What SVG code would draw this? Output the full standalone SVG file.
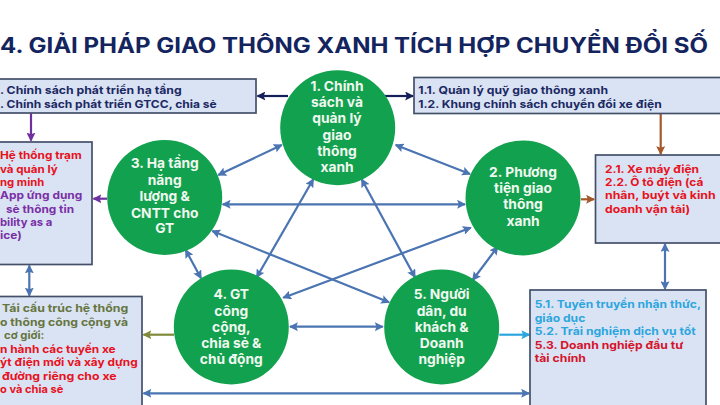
<svg xmlns="http://www.w3.org/2000/svg" width="720" height="405" viewBox="0 0 720 405">
<style>
text{font-family:"Inter","Liberation Sans","Noto Sans CJK SC",sans-serif}
.box{fill:#dae3f3;stroke:#44506a;stroke-width:1.7}
.c{fill:#12a14e}
.ct{fill:#f0f8f0;font-size:13.800px;font-weight:700;text-anchor:middle}
.t{font-size:11px;font-weight:700}
.title{fill:#14245e;font-size:21px;font-weight:700}
.navy{fill:#1c2a64}.red{fill:#e8121e}.pur{fill:#7a30a6}.oli{fill:#66753f}.cya{fill:#2ca6de}.dred{fill:#d5142c}
line{fill:none;stroke-width:2.200}
.b{stroke:#4a74b2;marker-start:url(#mb);marker-end:url(#mb)}
.n{stroke:#14205a;marker-end:url(#mn)}
.p{stroke:#7030a0;marker-end:url(#mp)}
.o{stroke:#7f8a3a;marker-end:url(#mo)}
.r{stroke:#a5582a;marker-end:url(#mr)}
.y{stroke:#2ca6de;marker-end:url(#my)}
</style>
<defs>
<marker id="mb" viewBox="0 0 8 8" refX="7" refY="4" markerWidth="9" markerHeight="9" markerUnits="userSpaceOnUse" orient="auto-start-reverse"><path d="M0 0L8 4L0 8L1.500 4Z" fill="#4a74b2"/></marker>
<marker id="mn" viewBox="0 0 8 8" refX="7" refY="4" markerWidth="9" markerHeight="9" markerUnits="userSpaceOnUse" orient="auto"><path d="M0 0L8 4L0 8L1.500 4Z" fill="#14205a"/></marker>
<marker id="mp" viewBox="0 0 8 8" refX="7" refY="4" markerWidth="9" markerHeight="9" markerUnits="userSpaceOnUse" orient="auto"><path d="M0 0L8 4L0 8L1.500 4Z" fill="#7030a0"/></marker>
<marker id="mo" viewBox="0 0 8 8" refX="7" refY="4" markerWidth="9" markerHeight="9" markerUnits="userSpaceOnUse" orient="auto"><path d="M0 0L8 4L0 8L1.500 4Z" fill="#7f8a3a"/></marker>
<marker id="mr" viewBox="0 0 8 8" refX="7" refY="4" markerWidth="9" markerHeight="9" markerUnits="userSpaceOnUse" orient="auto"><path d="M0 0L8 4L0 8L1.500 4Z" fill="#a5582a"/></marker>
<marker id="my" viewBox="0 0 8 8" refX="7" refY="4" markerWidth="9" markerHeight="9" markerUnits="userSpaceOnUse" orient="auto"><path d="M0 0L8 4L0 8L1.500 4Z" fill="#2ca6de"/></marker>
</defs>
<rect width="720" height="405" fill="#fff"/>
<text id="title" class="title" x="0" y="53" textLength="708" lengthAdjust="spacingAndGlyphs">4. GIẢI PHÁP GIAO THÔNG XANH TÍCH HỢP CHUYỂN ĐỔI SỐ</text>
<g id="connectors">
<line class="b" x1="218.300" y1="175" x2="281.700" y2="145"/>
<line class="b" x1="395.700" y1="145" x2="470" y2="174"/>
<line class="b" x1="222.700" y1="204.300" x2="465" y2="204.300"/>
<line class="b" x1="212.300" y1="231" x2="389" y2="302.300"/>
<line class="b" x1="313.300" y1="179.300" x2="256.700" y2="277.300"/>
<line class="b" x1="361.700" y1="179.300" x2="415" y2="277.300"/>
<line class="b" x1="470.700" y1="227.700" x2="283.300" y2="297.700"/>
<line class="b" x1="185.700" y1="250" x2="201" y2="278.300"/>
<line class="b" x1="497.700" y1="246.700" x2="472.700" y2="280"/>
<line class="b" x1="290" y1="326.700" x2="382.700" y2="326.700"/>
<line class="b" x1="143.500" y1="393.300" x2="529" y2="393.300"/>
<line class="b" x1="29.300" y1="265.500" x2="29.300" y2="295.500"/>
<line class="b" x1="665" y1="244" x2="665" y2="289"/>
<line class="n" x1="288" y1="96" x2="257.500" y2="96"/>
<line class="n" x1="384" y1="96" x2="413" y2="96"/>
<line class="p" x1="31" y1="113" x2="31" y2="140.500"/>
<line class="p" x1="107" y1="198.700" x2="93.500" y2="198.700"/>
<line class="o" x1="174" y1="334.700" x2="143.500" y2="334.700"/>
<line class="r" x1="660.700" y1="114" x2="660.700" y2="154"/>
<line class="r" x1="581" y1="199.300" x2="594" y2="199.300"/>
<line class="y" x1="499.300" y1="334.700" x2="529.300" y2="334.700"/>
</g>
<g id="box-3-policy">
<rect class="box" x="-5" y="79" width="261" height="34"/>
<text class="t navy" x="0" y="94" textLength="181.700" lengthAdjust="spacingAndGlyphs">. Chính sách phát triển hạ tầng</text>
<text class="t navy" x="0" y="107.700" textLength="216.700" lengthAdjust="spacingAndGlyphs">. Chính sách phát triển GTCC, chia sẻ</text>
</g>
<g id="box-1-policy">
<rect class="box" x="414" y="77.500" width="312" height="36"/>
<text class="t navy" x="418.300" y="94" textLength="189.700" lengthAdjust="spacingAndGlyphs">1.1. Quản lý quỹ giao thông xanh</text>
<text class="t navy" x="418.300" y="107.700" textLength="243.400" lengthAdjust="spacingAndGlyphs">1.2. Khung chính sách chuyển đổi xe điện</text>
</g>
<g id="box-3-detail">
<rect class="box" x="-5" y="142" width="97" height="122.500"/>
<text class="t red" x="0" y="158.700" textLength="81.700" lengthAdjust="spacingAndGlyphs">Hệ thống trạm</text>
<text class="t red" x="0" y="172.700" textLength="57.700" lengthAdjust="spacingAndGlyphs">và quản lý</text>
<text class="t red" x="0" y="186" textLength="44.300" lengthAdjust="spacingAndGlyphs">ng minh</text>
<text class="t pur" x="0" y="199.300" textLength="82.300" lengthAdjust="spacingAndGlyphs">App ứng dụng</text>
<text class="t pur" x="6" y="212.700" textLength="68" lengthAdjust="spacingAndGlyphs">sẻ thông tin</text>
<text class="t pur" x="0" y="226" textLength="52.300" lengthAdjust="spacingAndGlyphs">bility as a</text>
<text class="t pur" x="0" y="239.300" textLength="21.700" lengthAdjust="spacingAndGlyphs">ice)</text>
</g>
<g id="box-4-detail">
<rect class="box" x="-5" y="296.500" width="147" height="120"/>
<text class="t oli" x="2" y="311.700" textLength="126.300" lengthAdjust="spacingAndGlyphs">Tái cấu trúc hệ thống</text>
<text class="t oli" x="0" y="325.700" textLength="128" lengthAdjust="spacingAndGlyphs">o thông công cộng và</text>
<text class="t oli" x="4" y="339" textLength="40.300" lengthAdjust="spacingAndGlyphs">cơ giới:</text>
<text class="t red" x="0" y="352.700" textLength="115.700" lengthAdjust="spacingAndGlyphs">n hành các tuyến xe</text>
<text class="t red" x="0" y="366.300" textLength="137.700" lengthAdjust="spacingAndGlyphs">ýt điện mới và xây dựng</text>
<text class="t red" x="2" y="380" textLength="114.700" lengthAdjust="spacingAndGlyphs">đường riêng cho xe</text>
<text class="t red" x="0" y="393.300" textLength="63.300" lengthAdjust="spacingAndGlyphs">o và chia sẻ</text>
</g>
<g id="box-2-detail">
<rect class="box" x="595.500" y="155" width="130" height="88"/>
<text class="t red" x="605" y="172.700" textLength="94" lengthAdjust="spacingAndGlyphs">2.1. Xe máy điện</text>
<text class="t red" x="605" y="186" textLength="98.300" lengthAdjust="spacingAndGlyphs">2.2. Ô tô điện (cá</text>
<text class="t red" x="605" y="199.300" textLength="110.700" lengthAdjust="spacingAndGlyphs">nhân, buýt và kinh</text>
<text class="t red" x="605" y="212.700" textLength="85" lengthAdjust="spacingAndGlyphs">doanh vận tải)</text>
</g>
<g id="box-5-detail">
<rect class="box" x="530" y="290" width="176" height="125"/>
<text class="t cya" x="534.700" y="308.300" textLength="166.300" lengthAdjust="spacingAndGlyphs">5.1. Tuyên truyền nhận thức,</text>
<text class="t cya" x="534.700" y="321.700" textLength="50.600" lengthAdjust="spacingAndGlyphs">giáo dục</text>
<text class="t cya" x="534.700" y="335" textLength="161" lengthAdjust="spacingAndGlyphs">5.2. Trải nghiệm dịch vụ tốt</text>
<text class="t dred" x="534.700" y="348.700" textLength="148.600" lengthAdjust="spacingAndGlyphs">5.3. Doanh nghiệp đầu tư</text>
<text class="t dred" x="534.700" y="362.300" textLength="51.300" lengthAdjust="spacingAndGlyphs">tài chính</text>
</g>
<g id="node-1">
<circle class="c" cx="337.700" cy="127.700" r="57.500"/>
<text class="ct" x="337" y="90.700">1. Chính</text>
<text class="ct" x="337" y="107.300">sách và</text>
<text class="ct" x="337" y="123.300">quản lý</text>
<text class="ct" x="337" y="140">giao</text>
<text class="ct" x="337" y="156">thông</text>
<text class="ct" x="337" y="172.300">xanh</text>
</g>
<g id="node-2">
<circle class="c" cx="523" cy="198" r="57.500"/>
<text class="ct" x="523" y="176.700">2. Phương</text>
<text class="ct" x="523" y="193.300">tiện giao</text>
<text class="ct" x="523" y="209.300">thông</text>
<text class="ct" x="523" y="225.700">xanh</text>
</g>
<g id="node-3">
<circle class="c" cx="164.700" cy="197.500" r="57.500"/>
<text class="ct" x="164.700" y="168.300">3. Hạ tầng</text>
<text class="ct" x="164.700" y="185">năng</text>
<text class="ct" x="164.700" y="201">lượng &amp;</text>
<text class="ct" x="164.700" y="217.700">CNTT cho</text>
<text class="ct" x="164.700" y="233.300">GT</text>
</g>
<g id="node-4">
<circle class="c" cx="231.300" cy="327" r="57.500"/>
<text class="ct" x="231.300" y="299">4. GT</text>
<text class="ct" x="231.300" y="315.700">công</text>
<text class="ct" x="231.300" y="331.700">cộng,</text>
<text class="ct" x="231.300" y="348.300">chia sẻ &amp;</text>
<text class="ct" x="231.300" y="364.300">chủ động</text>
</g>
<g id="node-5">
<circle class="c" cx="441.700" cy="327" r="57.500"/>
<text class="ct" x="441.700" y="299">5. Người</text>
<text class="ct" x="441.700" y="315.700">dân, du</text>
<text class="ct" x="441.700" y="331.700">khách &amp;</text>
<text class="ct" x="441.700" y="348.300">Doanh</text>
<text class="ct" x="441.700" y="364.300">nghiệp</text>
</g>
</svg>
